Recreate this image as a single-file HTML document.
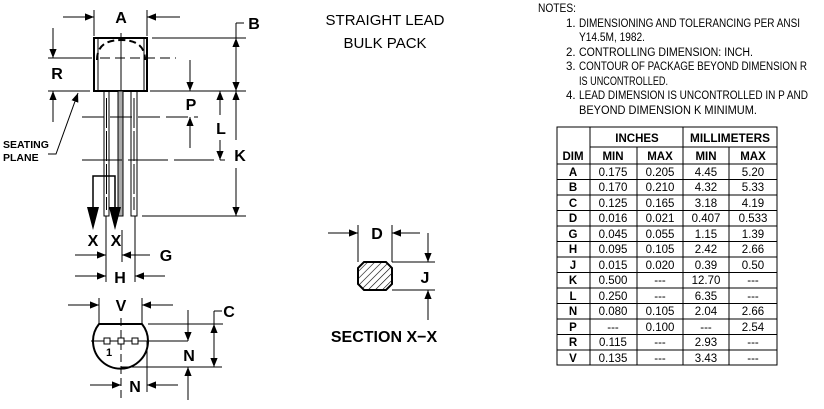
<!DOCTYPE html>
<html><head><style>
html,body{margin:0;padding:0;background:#fff;}
svg{display:block;font-family:"Liberation Sans",Arial,sans-serif;}
.b{font-weight:bold;font-size:16px;}
.n{font-size:11.5px;}
.t{font-size:11.5px;}
.tb{font-size:11.5px;font-weight:bold;}
</style></head><body>
<svg width="824" height="409" viewBox="0 0 824 409" xmlns="http://www.w3.org/2000/svg">
<defs>
<marker id="a" viewBox="0 0 10 10" refX="10" refY="5" markerWidth="9" markerHeight="9" markerUnits="userSpaceOnUse" orient="auto"><path d="M0,1 L10,5 L0,9 z" fill="#000"/></marker>
<pattern id="h" width="5" height="5" patternUnits="userSpaceOnUse" patternTransform="rotate(45)"><line x1="0" y1="0" x2="0" y2="5" stroke="#000" stroke-width="1.2"/></pattern>
</defs>
<g stroke="#000" fill="none" stroke-width="1">
<rect x="94" y="38" width="53" height="53" stroke-width="2"/>
<line x1="98" y1="38" x2="98" y2="91"/><line x1="144" y1="38" x2="144" y2="91"/>
<path d="M97,60 Q97,40 121,40 Q145,40 145,60" stroke-width="2" stroke-dasharray="7,4"/>
<line x1="121" y1="33" x2="121" y2="216"/>
<rect x="104" y="91" width="5" height="125"/><rect x="118" y="91" width="5" height="125" fill="#aaa"/><rect x="131" y="91" width="6" height="125"/>
<line x1="106.5" y1="98" x2="106.5" y2="210" stroke-dasharray="30,3"/><line x1="134" y1="98" x2="134" y2="210" stroke-dasharray="30,3"/>
<line x1="94" y1="10" x2="94" y2="36"/><line x1="147" y1="10" x2="147" y2="36"/>
<line x1="63" y1="17" x2="94" y2="17" marker-end="url(#a)"/><line x1="180" y1="17" x2="147" y2="17" marker-end="url(#a)"/>
<line x1="152" y1="38" x2="246" y2="38"/>
<line x1="48" y1="91" x2="90" y2="91"/><line x1="150" y1="91" x2="246" y2="91"/>
<line x1="142" y1="216" x2="246" y2="216"/>
<line x1="236" y1="64" x2="236" y2="38" marker-end="url(#a)"/><line x1="236" y1="64" x2="236" y2="91" marker-end="url(#a)"/>
<line x1="236" y1="23" x2="236" y2="38"/><line x1="236" y1="23" x2="244" y2="23"/>
<line x1="236" y1="140" x2="236" y2="91" marker-end="url(#a)"/><line x1="236" y1="168" x2="236" y2="216" marker-end="url(#a)"/>
<line x1="48" y1="58" x2="92" y2="58"/><line x1="100" y1="58" x2="176" y2="58" stroke-dasharray="10,5"/>
<line x1="53" y1="28" x2="53" y2="58" marker-end="url(#a)"/><line x1="53" y1="122" x2="53" y2="91" marker-end="url(#a)"/>
<polyline points="48,154 56,154 78,93" marker-end="url(#a)"/>
<line x1="82" y1="117" x2="198" y2="117" stroke-dasharray="22,6"/>
<line x1="82" y1="160" x2="225" y2="160" stroke-dasharray="40,6"/>
<line x1="190" y1="60" x2="190" y2="91" marker-end="url(#a)"/><line x1="190" y1="148" x2="190" y2="117" marker-end="url(#a)"/>
<line x1="220" y1="115" x2="220" y2="91" marker-end="url(#a)"/><line x1="220" y1="140" x2="220" y2="160" marker-end="url(#a)"/>
<polyline points="93,207 93,176 115,176 115,207" stroke-width="1.5"/>
<path d="M87,207 L99,207 L93,230 z M109,207 L121,207 L115,230 z" fill="#000" stroke="none"/>
<line x1="106" y1="216" x2="106" y2="282"/><line x1="122" y1="230" x2="122" y2="262"/><line x1="135" y1="216" x2="135" y2="282"/>
<line x1="75" y1="255" x2="106" y2="255" marker-end="url(#a)"/><line x1="150" y1="255" x2="122" y2="255" marker-end="url(#a)"/>
<line x1="75" y1="276" x2="106" y2="276" marker-end="url(#a)"/><line x1="165" y1="276" x2="135" y2="276" marker-end="url(#a)"/>
<line x1="99" y1="298" x2="99" y2="324"/><line x1="142" y1="298" x2="142" y2="324"/>
<line x1="68" y1="305" x2="99" y2="305" marker-end="url(#a)"/><line x1="173" y1="305" x2="142" y2="305" marker-end="url(#a)"/>
<path d="M99,324 L142,324 A27.5,27.5 0 1 1 99,324 z" stroke-width="2"/>
<line x1="91" y1="341" x2="188" y2="341"/>
<line x1="121" y1="318" x2="121" y2="400" stroke-dasharray="8,4"/>
<rect x="104" y="338" width="6" height="6" fill="#fff"/><rect x="118" y="338" width="6" height="6" fill="#fff"/><rect x="132" y="338" width="6" height="6" fill="#fff"/>
<line x1="148" y1="324" x2="223" y2="324"/><line x1="121" y1="367" x2="222" y2="367"/>
<line x1="188" y1="310" x2="188" y2="341" marker-end="url(#a)"/><line x1="188" y1="400" x2="188" y2="367" marker-end="url(#a)"/>
<line x1="214" y1="345" x2="214" y2="324" marker-end="url(#a)"/><line x1="214" y1="345" x2="214" y2="367" marker-end="url(#a)"/>
<line x1="214" y1="311" x2="214" y2="324"/><line x1="214" y1="311" x2="222" y2="311"/>
<line x1="147" y1="341" x2="147" y2="392"/>
<line x1="90" y1="385" x2="121" y2="385" marker-end="url(#a)"/><line x1="178" y1="385" x2="147" y2="385" marker-end="url(#a)"/>
<line x1="358" y1="225" x2="358" y2="262"/><line x1="392" y1="225" x2="392" y2="262"/>
<line x1="328" y1="233" x2="358" y2="233" marker-end="url(#a)"/><line x1="420" y1="233" x2="392" y2="233" marker-end="url(#a)"/>
<path d="M364,262 L386,262 L392,268 L392,284 L386,290 L364,290 L358,284 L358,268 z" fill="url(#h)" stroke-width="2"/>
<line x1="392" y1="262" x2="435" y2="262"/><line x1="392" y1="290" x2="435" y2="290"/>
<line x1="428" y1="233" x2="428" y2="262" marker-end="url(#a)"/><line x1="428" y1="320" x2="428" y2="290" marker-end="url(#a)"/>
</g>
<g class="b" text-anchor="middle">
<text x="121" y="23">A</text><text x="254" y="29">B</text><text x="57" y="79">R</text>
<text x="191" y="110">P</text><text x="221" y="134">L</text><text x="240" y="161">K</text>
<text x="93" y="246">X</text><text x="116" y="246">X</text>
<text x="166" y="261">G</text><text x="120" y="283">H</text>
<text x="121" y="311">V</text><text x="229" y="317">C</text><text x="189" y="361">N</text><text x="135" y="392">N</text>
<text x="377" y="239">D</text><text x="425" y="283">J</text>
</g>
<text x="109" y="356" font-size="11" font-weight="bold" text-anchor="middle">1</text>
<text x="3" y="148" font-size="10.5" font-weight="bold">SEATING</text>
<text x="3" y="161" font-size="10.5" font-weight="bold">PLANE</text>
<text x="385" y="25" font-size="15" text-anchor="middle">STRAIGHT LEAD</text>
<text x="385" y="48" font-size="15" text-anchor="middle">BULK PACK</text>
<text x="384" y="342" font-size="16" font-weight="bold" text-anchor="middle">SECTION X−X</text>
<g class="n">
<text x="538" y="12" textLength="38" lengthAdjust="spacingAndGlyphs">NOTES:</text>
<text x="566" y="27">1.</text><text x="579" y="27" textLength="221" lengthAdjust="spacingAndGlyphs">DIMENSIONING AND TOLERANCING PER ANSI</text>
<text x="579" y="41" textLength="66" lengthAdjust="spacingAndGlyphs">Y14.5M, 1982.</text>
<text x="566" y="56">2.</text><text x="579" y="56" textLength="174" lengthAdjust="spacingAndGlyphs">CONTROLLING DIMENSION: INCH.</text>
<text x="566" y="70">3.</text><text x="579" y="70" textLength="228" lengthAdjust="spacingAndGlyphs">CONTOUR OF PACKAGE BEYOND DIMENSION R</text>
<text x="579" y="85" textLength="89" lengthAdjust="spacingAndGlyphs">IS UNCONTROLLED.</text>
<text x="566" y="99">4.</text><text x="579" y="99" textLength="229" lengthAdjust="spacingAndGlyphs">LEAD DIMENSION IS UNCONTROLLED IN P AND</text>
<text x="579" y="114" textLength="178" lengthAdjust="spacingAndGlyphs">BEYOND DIMENSION K MINIMUM.</text>
</g>
<g stroke="#000" stroke-width="1" fill="none">
<rect x="557" y="127" width="220" height="238"/>
<line x1="590" y1="127" x2="590" y2="365"/><line x1="683" y1="127" x2="683" y2="365"/>
<line x1="637" y1="147" x2="637" y2="365"/><line x1="729" y1="147" x2="729" y2="365"/>
<line x1="590" y1="147" x2="777" y2="147"/>
<line x1="557" y1="164" x2="777" y2="164"/>
<line x1="557" y1="179.5" x2="777" y2="179.5"/><line x1="557" y1="195" x2="777" y2="195"/><line x1="557" y1="210.5" x2="777" y2="210.5"/><line x1="557" y1="226" x2="777" y2="226"/><line x1="557" y1="241.5" x2="777" y2="241.5"/><line x1="557" y1="257" x2="777" y2="257"/><line x1="557" y1="272.5" x2="777" y2="272.5"/><line x1="557" y1="288" x2="777" y2="288"/><line x1="557" y1="303.5" x2="777" y2="303.5"/><line x1="557" y1="319" x2="777" y2="319"/><line x1="557" y1="334.5" x2="777" y2="334.5"/><line x1="557" y1="350" x2="777" y2="350"/>
</g>
<g class="tb" text-anchor="middle">
<text x="637" y="142">INCHES</text><text x="730" y="142" textLength="80" lengthAdjust="spacingAndGlyphs">MILLIMETERS</text>
<text x="573" y="160">DIM</text><text x="613" y="160">MIN</text><text x="660" y="160">MAX</text><text x="706" y="160">MIN</text><text x="753" y="160">MAX</text>
<text x="573" y="176">A</text><text x="573" y="191">B</text><text x="573" y="207">C</text><text x="573" y="222">D</text><text x="573" y="238">G</text><text x="573" y="253">H</text><text x="573" y="269">J</text><text x="573" y="284">K</text><text x="573" y="300">L</text><text x="573" y="315">N</text><text x="573" y="331">P</text><text x="573" y="346">R</text><text x="573" y="362">V</text>
</g>
<g class="t" text-anchor="middle">
<text x="613" y="176">0.175</text><text x="660" y="176">0.205</text><text x="706" y="176">4.45</text><text x="753" y="176">5.20</text>
<text x="613" y="191">0.170</text><text x="660" y="191">0.210</text><text x="706" y="191">4.32</text><text x="753" y="191">5.33</text>
<text x="613" y="207">0.125</text><text x="660" y="207">0.165</text><text x="706" y="207">3.18</text><text x="753" y="207">4.19</text>
<text x="613" y="222">0.016</text><text x="660" y="222">0.021</text><text x="706" y="222">0.407</text><text x="753" y="222">0.533</text>
<text x="613" y="238">0.045</text><text x="660" y="238">0.055</text><text x="706" y="238">1.15</text><text x="753" y="238">1.39</text>
<text x="613" y="253">0.095</text><text x="660" y="253">0.105</text><text x="706" y="253">2.42</text><text x="753" y="253">2.66</text>
<text x="613" y="269">0.015</text><text x="660" y="269">0.020</text><text x="706" y="269">0.39</text><text x="753" y="269">0.50</text>
<text x="613" y="284">0.500</text><text x="660" y="284">---</text><text x="706" y="284">12.70</text><text x="753" y="284">---</text>
<text x="613" y="300">0.250</text><text x="660" y="300">---</text><text x="706" y="300">6.35</text><text x="753" y="300">---</text>
<text x="613" y="315">0.080</text><text x="660" y="315">0.105</text><text x="706" y="315">2.04</text><text x="753" y="315">2.66</text>
<text x="613" y="331">---</text><text x="660" y="331">0.100</text><text x="706" y="331">---</text><text x="753" y="331">2.54</text>
<text x="613" y="346">0.115</text><text x="660" y="346">---</text><text x="706" y="346">2.93</text><text x="753" y="346">---</text>
<text x="613" y="362">0.135</text><text x="660" y="362">---</text><text x="706" y="362">3.43</text><text x="753" y="362">---</text>
</g>
</svg>
</body></html>
